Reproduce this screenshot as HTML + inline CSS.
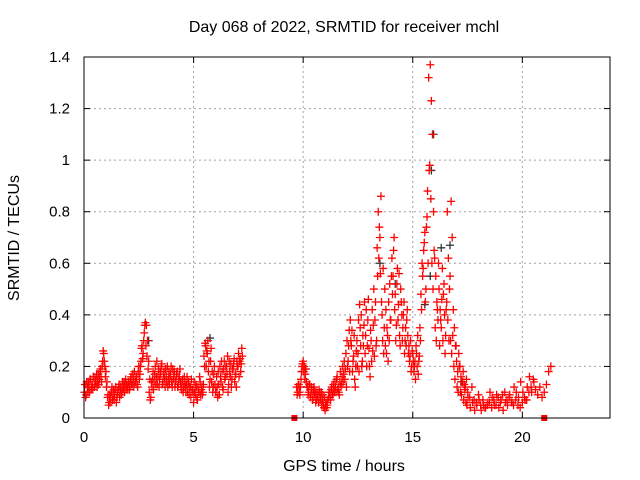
<!DOCTYPE html>
<html><head><meta charset="utf-8"><style>
body{margin:0;background:#fff;}
svg{display:block;font-family:"Liberation Sans",sans-serif;}
</style></head><body>
<svg id="chart" width="640" height="480">
<text x="344" y="32" font-size="16" text-anchor="middle">Day 068 of 2022, SRMTID for receiver mchl</text>
<text x="344" y="471" font-size="16" text-anchor="middle">GPS time / hours</text>
<text transform="translate(19,238) rotate(-90)" font-size="16" text-anchor="middle">SRMTID / TECUs</text>
<g id="grid"></g><g id="ticks"></g><g id="marks"></g>
<rect x="84" y="57" width="526" height="361" fill="none" stroke="#000" stroke-width="1"/>
</svg>
<script>
const xTicks=[0,5,10,15,20];
const yTicks=[0,0.2,0.4,0.6,0.8,1,1.2,1.4];
const yTickLabels=["0","0.2","0.4","0.6","0.8","1","1.2","1.4"];
const hours=[0.02,0.05,0.1,0.15,0.2,0.25,0.3,0.35,0.4,0.45,0.5,0.55,0.6,0.65,0.7,0.75,0.8,0.85,0.9,0.95,1.0,1.05,1.1,1.15,1.2,1.25,1.3,1.35,1.4,1.45,1.5,1.55,1.6,1.65,1.7,1.75,1.8,1.85,1.9,1.95,2.0,2.05,2.1,2.15,2.2,2.25,2.3,2.35,2.4,2.45,2.5,2.55,2.6,2.65,2.7,2.75,2.8,2.85,2.9,2.95,3.0,3.05,3.1,3.15,3.2,3.25,3.3,3.35,3.4,3.45,3.5,3.55,3.6,3.65,3.7,3.75,3.8,3.85,3.9,3.95,4.0,4.05,4.1,4.15,4.2,4.25,4.3,4.35,4.4,4.45,4.5,4.55,4.6,4.65,4.7,4.75,4.8,4.85,4.9,4.95,5.0,5.05,5.1,5.15,5.2,5.25,5.3,5.35,5.4,5.45,5.5,5.55,5.6,5.65,5.7,5.75,5.8,5.85,5.9,5.95,6.0,6.05,6.1,6.15,6.2,6.25,6.3,6.35,6.4,6.45,6.5,6.55,6.6,6.65,6.7,6.75,6.8,6.85,6.9,6.95,7.0,7.05,7.1,7.15,7.2,
9.7,9.75,9.8,9.85,9.9,9.95,10.0,10.05,10.1,10.15,10.2,10.25,10.3,10.35,10.4,10.45,10.5,10.55,10.6,10.65,10.7,10.75,10.8,10.85,10.9,10.95,11.0,11.05,11.1,11.15,11.2,11.25,11.3,11.35,11.4,11.45,11.5,11.55,11.6,11.65,11.7,11.75,11.8,11.85,11.9,11.95,12.0,12.05,12.1,12.15,12.2,12.25,12.3,12.35,12.4,12.45,12.5,12.55,12.6,12.65,12.7,12.75,12.8,12.85,12.9,12.95,13.0,13.05,13.1,13.15,13.2,13.25,13.3,13.35,13.4,13.45,13.5,13.55,13.6,13.65,13.7,13.75,13.8,13.85,13.9,13.95,14.0,14.05,14.1,14.15,14.2,14.25,14.3,14.35,14.4,14.45,14.5,14.55,14.6,14.65,14.7,14.75,14.8,14.85,14.9,14.95,15.0,15.05,15.1,15.15,15.2,15.25,15.3,15.35,15.4,15.45,15.5,15.55,15.6,15.65,15.7,15.75,15.8,15.85,15.9,15.95,16.0,16.05,16.1,16.15,16.2,16.25,16.3,16.35,16.4,16.45,16.5,16.55,16.6,16.65,16.7,16.75,16.8,16.85,16.9,16.95,17.0,17.05,17.1,17.15,17.2,17.25,17.3,17.35,17.4,17.45,17.5,17.6,17.7,17.8,17.9,18.0,18.1,18.2,18.3,18.4,18.5,18.6,18.7,18.8,18.9,19.0,19.1,19.2,19.3,19.4,19.5,19.6,19.7,19.8,19.9,20.0,20.1,20.2,20.3,20.4,20.5,20.6,20.7,20.8,20.9,21.0,21.1,21.2,21.3,21.4,21.5,21.6,21.7,21.8,21.9,22.0,22.1,22.2,22.3,22.4,22.5,22.6,22.7,22.8];
const valuesA=[0.1,0.13,0.09,0.12,0.14,0.1,0.15,0.12,0.11,0.16,0.13,0.14,0.12,0.17,0.15,0.19,0.14,0.22,0.25,0.2,0.18,0.14,0.09,0.06,0.08,0.1,0.07,0.11,0.09,0.12,0.08,0.1,0.13,0.11,0.09,0.14,0.12,0.1,0.15,0.13,0.11,0.14,0.12,0.16,0.13,0.15,0.18,0.14,0.16,0.12,0.2,0.17,0.22,0.28,0.25,0.33,0.37,0.36,0.3,0.22,0.15,0.08,0.12,0.18,0.14,0.2,0.16,0.13,0.19,0.15,0.17,0.21,0.14,0.18,0.12,0.16,0.2,0.15,0.13,0.17,0.14,0.19,0.16,0.12,0.15,0.18,0.13,0.16,0.14,0.11,0.15,0.12,0.14,0.1,0.16,0.13,0.09,0.12,0.15,0.11,0.06,0.1,0.13,0.08,0.12,0.1,0.14,0.11,0.09,0.13,0.2,0.28,0.26,0.3,0.22,0.15,0.27,0.18,0.12,0.2,0.1,0.16,0.08,0.13,0.2,0.14,0.18,0.11,0.22,0.16,0.2,0.24,0.13,0.18,0.21,0.15,0.19,0.23,0.17,0.12,0.2,0.25,0.22,0.18,0.27,
0.12,0.1,0.13,0.09,0.15,0.2,0.22,0.2,0.17,0.14,0.12,0.1,0.13,0.09,0.11,0.08,0.12,0.1,0.07,0.09,0.06,0.1,0.08,0.05,0.09,0.04,0.03,0.06,0.05,0.08,0.1,0.07,0.12,0.09,0.11,0.14,0.1,0.16,0.12,0.09,0.18,0.13,0.2,0.17,0.15,0.25,0.3,0.22,0.34,0.38,0.28,0.18,0.24,0.15,0.2,0.3,0.25,0.18,0.35,0.4,0.22,0.28,0.45,0.32,0.2,0.38,0.27,0.16,0.3,0.42,0.36,0.24,0.45,0.3,0.55,0.62,0.7,0.86,0.4,0.58,0.35,0.28,0.25,0.32,0.45,0.52,0.38,0.62,0.55,0.7,0.48,0.36,0.58,0.44,0.32,0.5,0.4,0.35,0.45,0.3,0.28,0.42,0.25,0.22,0.3,0.2,0.25,0.18,0.22,0.28,0.2,0.17,0.24,0.3,0.42,0.55,0.65,0.72,0.5,0.78,0.6,0.96,1.37,1.23,1.1,0.8,0.62,0.55,0.45,0.38,0.5,0.42,0.35,0.58,0.48,0.4,0.32,0.45,0.38,0.3,0.55,0.84,0.7,0.42,0.35,0.28,0.22,0.18,0.25,0.2,0.16,0.14,0.18,0.13,0.12,0.15,0.1,0.08,0.12,0.07,0.06,0.09,0.05,0.07,0.04,0.05,0.06,0.04,0.07,0.05,0.08,0.06,0.09,0.1,0.07,0.08,0.06,0.05,0.07,0.05,0.04,0.06,0.08,0.07,0.1,0.12,0.15,0.11,0.09,0.12,0.08,0.1,0.13,0.18,0.2];
const valuesB=[0.13,0.08,0.14,0.1,0.12,0.15,0.11,0.13,0.16,0.12,0.15,0.17,0.14,0.13,0.18,0.16,0.2,0.26,0.22,0.16,0.12,0.08,0.05,0.09,0.06,0.12,0.09,0.07,0.11,0.06,0.1,0.12,0.08,0.12,0.1,0.11,0.14,0.13,0.11,0.12,0.14,0.11,0.15,0.13,0.17,0.12,0.14,0.16,0.13,0.18,0.15,0.2,0.27,0.23,0.3,0.36,0.28,0.24,0.19,0.1,0.07,0.14,0.15,0.11,0.17,0.13,0.22,0.16,0.12,0.18,0.2,0.13,0.17,0.15,0.19,0.14,0.12,0.18,0.16,0.2,0.12,0.15,0.18,0.14,0.17,0.12,0.15,0.19,0.12,0.14,0.1,0.16,0.12,0.13,0.1,0.14,0.12,0.08,0.11,0.1,0.14,0.09,0.12,0.07,0.1,0.16,0.09,0.12,0.1,0.24,0.29,0.2,0.25,0.18,0.12,0.22,0.14,0.1,0.17,0.13,0.1,0.12,0.18,0.09,0.16,0.22,0.12,0.19,0.15,0.2,0.17,0.1,0.22,0.16,0.12,0.19,0.21,0.14,0.17,0.22,0.2,0.16,0.23,0.21,0.24,
0.09,0.13,0.1,0.12,0.18,0.21,0.18,0.15,0.19,0.12,0.09,0.13,0.08,0.12,0.07,0.11,0.09,0.06,0.1,0.08,0.11,0.07,0.1,0.07,0.05,0.08,0.05,0.04,0.07,0.1,0.08,0.11,0.09,0.13,0.1,0.12,0.15,0.11,0.1,0.14,0.12,0.16,0.14,0.22,0.19,0.12,0.2,0.28,0.18,0.3,0.34,0.22,0.32,0.12,0.26,0.2,0.38,0.44,0.28,0.2,0.32,0.36,0.25,0.42,0.28,0.46,0.2,0.34,0.22,0.26,0.5,0.38,0.28,0.66,0.8,0.74,0.56,0.45,0.3,0.25,0.5,0.42,0.35,0.22,0.3,0.38,0.55,0.48,0.65,0.42,0.3,0.52,0.38,0.56,0.28,0.45,0.3,0.4,0.25,0.35,0.38,0.32,0.28,0.24,0.18,0.26,0.22,0.2,0.15,0.25,0.32,0.22,0.35,0.48,0.6,0.58,0.68,0.45,0.74,0.88,1.32,0.98,0.85,0.6,0.5,0.65,0.35,0.3,0.42,0.6,0.28,0.38,0.46,0.3,0.52,0.25,0.42,0.8,0.62,0.5,0.3,0.25,0.32,0.2,0.15,0.28,0.12,0.1,0.2,0.1,0.09,0.14,0.07,0.11,0.06,0.05,0.08,0.04,0.06,0.03,0.05,0.07,0.03,0.05,0.04,0.06,0.1,0.08,0.05,0.09,0.04,0.07,0.03,0.06,0.05,0.09,0.06,0.12,0.1,0.08,0.14,0.1,0.07,0.12,0.16,0.1,0.14];
const blackHours=[2.95,5.75,10.1,13.5,14.2,15.55,15.8,15.85,15.95,16.3,16.7,17.2];
const blackValues=[0.3,0.31,0.19,0.6,0.52,0.44,0.55,0.96,1.1,0.66,0.67,0.14];
const flagHours=[9.6,21.0];
const flagValues=[0,0];

const NS="http://www.w3.org/2000/svg";
const X0=84,X1=610,Y0=418,Y1=57,XMAX=24,YMAX=1.4;
function xs(h){return X0+h/XMAX*(X1-X0);}
function ys(v){return Y0-v/YMAX*(Y0-Y1);}
const grid=document.getElementById('grid'),ticks=document.getElementById('ticks'),marks=document.getElementById('marks');
function mk(tag,attrs,parent){const e=document.createElementNS(NS,tag);for(const k in attrs)e.setAttribute(k,attrs[k]);parent.appendChild(e);return e;}
xTicks.forEach(t=>{
 const x=xs(t);
 if(t>0){const g=mk('line',{x1:x,x2:x,y1:Y0,y2:Y1,stroke:'#a0a0a0','stroke-dasharray':'2,3'},grid);
 
 }
 mk('line',{x1:x,x2:x,y1:Y0,y2:Y0-6,stroke:'#000'},ticks);
 mk('line',{x1:x,x2:x,y1:Y1,y2:Y1+6,stroke:'#000'},ticks);
 const tx=mk('text',{x:x,y:Y0+24,'font-size':15,'text-anchor':'middle'},ticks);
 tx.textContent=String(t);
 
 
});
yTicks.forEach((t,i)=>{
 const y=ys(t);
 if(t>0&&t<YMAX){const g=mk('line',{x1:X0,x2:X1,y1:y,y2:y,stroke:'#a0a0a0','stroke-dasharray':'2,3'},grid);
 
 }
 mk('line',{x1:X0,x2:X0+6,y1:y,y2:y,stroke:'#000'},ticks);
 mk('line',{x1:X1,x2:X1-6,y1:y,y2:y,stroke:'#000'},ticks);
 const tx=mk('text',{x:X0-14,y:y+5,'font-size':15,'text-anchor':'end'},ticks);
 tx.textContent=yTickLabels[i];
 
 
});
function plus(h,v,color){
 const x=xs(h),y=ys(v);
 const p=mk('path',{d:`M${x-4},${y}H${x+4}M${x},${y-4}V${y+4}`,stroke:color,'stroke-width':1.3,fill:'none'},marks);
 
 
}
blackHours.forEach((h,i)=>plus(h,blackValues[i],'#333'));
hours.forEach((h,i)=>{plus(h,valuesA[i],'#ff0000');plus(h+0.025,valuesB[i],'#ff0000');});
flagHours.forEach((h,i)=>{
 const r=mk('rect',{x:xs(h)-3,y:ys(flagValues[i])-3,width:6,height:6,fill:'#ff0000'},marks);
 
 
});
</script>
</body></html>
